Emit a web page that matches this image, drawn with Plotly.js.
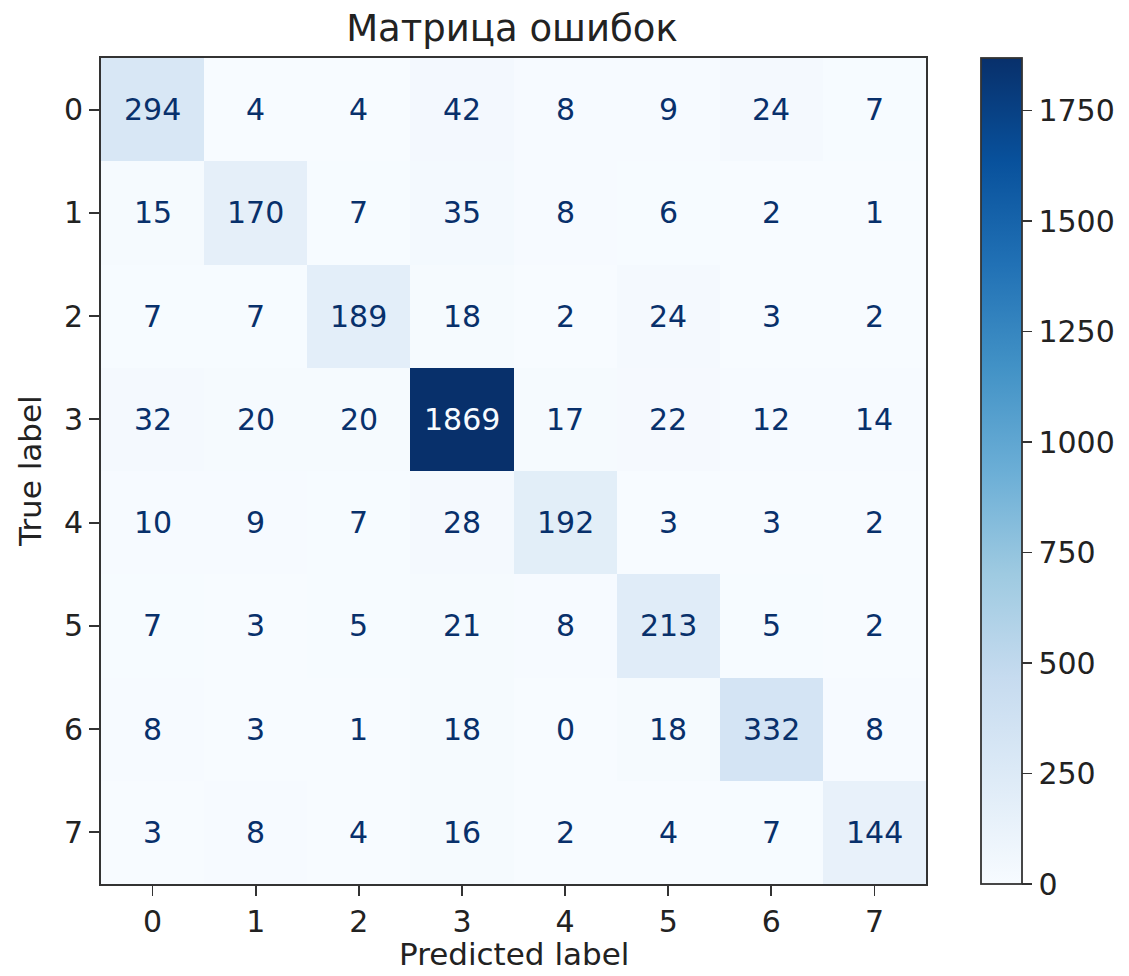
<!DOCTYPE html>
<html>
<head>
<meta charset="utf-8">
<script src="https://cdn.plot.ly/plotly-3.0.1.min.js"></script>
<style>html,body{margin:0;padding:0;background:#fff;}#chart{width:1129px;height:976px;}</style>
</head>
<body>
<div id="chart"></div>
<script>
const labels = [0, 1, 2, 3, 4, 5, 6, 7];
const row0 = [294, 4, 4, 42, 8, 9, 24, 7];
const row1 = [15, 170, 7, 35, 8, 6, 2, 1];
const row2 = [7, 7, 189, 18, 2, 24, 3, 2];
const row3 = [32, 20, 20, 1869, 17, 22, 12, 14];
const row4 = [10, 9, 7, 28, 192, 3, 3, 2];
const row5 = [7, 3, 5, 21, 8, 213, 5, 2];
const row6 = [8, 3, 1, 18, 0, 18, 332, 8];
const row7 = [3, 8, 4, 16, 2, 4, 7, 144];
const matrix = [row0, row1, row2, row3, row4, row5, row6, row7];
const colorbarTicks = [0, 250, 500, 750, 1000, 1250, 1500, 1750];

const blues = [
  [0.0, '#f7fbff'], [0.125, '#deebf7'], [0.25, '#c6dbef'], [0.375, '#9ecae1'],
  [0.5, '#6baed6'], [0.625, '#4292c6'], [0.75, '#2171b5'], [0.875, '#08519c'], [1.0, '#08306b']
];
const zmax = Math.max(...matrix.flat());
const zmin = Math.min(...matrix.flat());
const thresh = (zmax + zmin) / 2;

const font = 'DejaVu Sans, sans-serif';
const annotations = [];
matrix.forEach((row, i) => row.forEach((v, j) => {
  annotations.push({
    x: labels[j], y: labels[i], xref: 'x', yref: 'y', text: String(v), showarrow: false,
    font: {family: font, size: 30, color: v < thresh ? '#08306b' : '#f7fbff'}
  });
}));
annotations.push({
  x: 0.5, y: 0, xref: 'paper', yref: 'paper', yanchor: 'bottom', yshift: -90,
  text: 'Predicted label', showarrow: false, font: {family: font, size: 31, color: '#222'}
});
annotations.push({
  x: 0, y: 0.5, xref: 'paper', yref: 'paper', xanchor: 'center', xshift: -71,
  text: 'True label', textangle: -90, showarrow: false, font: {family: font, size: 31, color: '#222'}
});

const trace = {
  type: 'heatmap', x: labels, y: labels, z: matrix,
  colorscale: blues, zmin: 0, zmax: zmax, xgap: 0, ygap: 0,
  hoverinfo: 'skip',
  colorbar: {
    x: 1.0667, xanchor: 'left', y: 0, yanchor: 'bottom', len: 1, lenmode: 'fraction',
    thickness: 41, thicknessmode: 'pixels',
    outlinecolor: '#333', outlinewidth: 1.8,
    tickvals: colorbarTicks, ticktext: colorbarTicks.map(String),
    ticks: 'outside', ticklen: 10, tickwidth: 1.8, tickcolor: '#333',
    tickfont: {family: font, size: 30, color: '#222'}, xpad: 0, ypad: 0
  }
};

const axisCommon = {
  tickvals: labels, ticktext: labels.map(String), ticks: 'outside', ticklen: 10, tickwidth: 1.8,
  tickcolor: '#333', showline: true, linecolor: '#333', linewidth: 1.8, mirror: true,
  showgrid: false, zeroline: false, tickfont: {family: font, size: 30, color: '#222'}, fixedrange: true
};

const layout = {
  width: 1129, height: 976,
  margin: {l: 101, r: 203, t: 58, b: 92},
  paper_bgcolor: '#fff', plot_bgcolor: '#fff',
  title: {text: 'Матрица ошибок', font: {family: font, size: 37, color: '#222'}, x: 0.4535, xanchor: 'center', y: 0.971, yanchor: 'middle'},
  xaxis: Object.assign({}, axisCommon, {range: [-0.5, 7.5]}),
  yaxis: Object.assign({}, axisCommon, {range: [7.5, -0.5]}),
  annotations: annotations,
  showlegend: false
};

Plotly.newPlot('chart', [trace], layout, {displayModeBar: false, staticPlot: true});
</script>
</body>
</html>
